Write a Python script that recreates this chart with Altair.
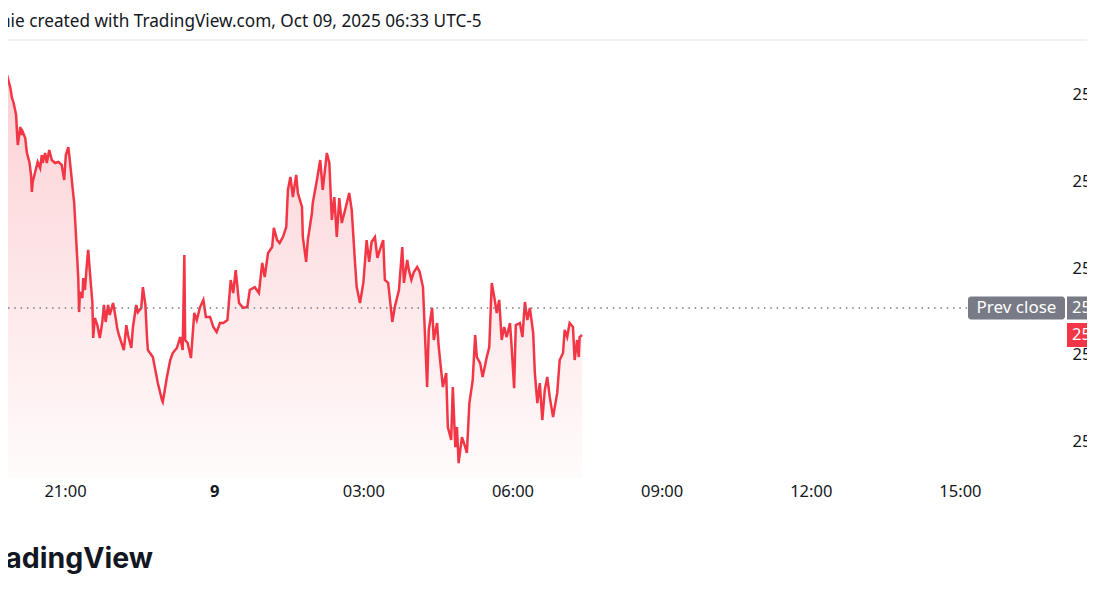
import altair as alt
import pandas as pd

# minutes after 21:00 (Oct 8, session clock) and price readings
minutes = [
    -78, -72, -70, -66, -64, -62, -59, -58, -57, -54,
    -52, -51, -48, -46, -43, -41, -40, -39, -36, -33,
    -30, -28, -27, -24, -22, -19, -16, -12, -8, -4,
    -1, 1, 4, 6, 10, 11, 13, 16, 17, 18,
    21, 22, 24, 27, 28, 30, 33, 34, 36, 39,
    42, 45, 47, 49, 52, 54, 58, 60, 63, 65,
    69, 71, 74, 76, 80, 82, 86, 88, 92, 94,
    97, 99, 100, 106, 112, 117, 118, 123, 127, 130,
    135, 139, 142, 144, 145, 148, 152, 156, 159, 163,
    167, 170, 175, 179, 183, 187, 191, 196, 200, 203,
    206, 210, 215, 220, 223, 229, 234, 238, 241, 245,
    250, 252, 256, 259, 263, 267, 269, 272, 275, 279,
    281, 286, 287, 291, 293, 298, 299, 304, 308, 311,
    316, 319, 322, 325, 328, 331, 334, 338, 343, 346,
    350, 352, 356, 360, 362, 364, 367, 370, 374, 377,
    380, 384, 386, 390, 395, 398, 403, 407, 409, 413,
    415, 418, 421, 425, 428, 432, 434, 437, 439, 443,
    445, 449, 451, 456, 460, 462, 466, 468, 471, 473,
    475, 479, 483, 485, 488, 492, 495, 497, 501, 504,
    509, 512, 515, 518, 521, 524, 527, 530, 533, 537,
    539, 542, 544, 549, 552, 555, 558, 561, 565, 567,
    570, 573, 576, 579, 582, 585, 589, 594, 597, 601,
    603, 606, 609, 613, 615, 618, 620, 621, 624,
]
prices = [
    25371.0, 25364.1, 25361.2, 25353.8, 25348.0, 25345.1, 25338.2, 25328.4, 25320.9, 25331.3,
    25326.7, 25328.4, 25324.9, 25316.3, 25311.1, 25303.6, 25293.8, 25299.6, 25305.3, 25311.1,
    25307.6, 25315.1, 25310.5, 25316.3, 25310.5, 25318.0, 25312.2, 25310.5, 25311.1, 25309.4,
    25300.7, 25315.1, 25319.7, 25311.1, 25292.1, 25288.0, 25270.7, 25244.2, 25224.6, 25236.2,
    25232.7, 25244.2, 25237.3, 25255.8, 25260.4, 25247.7, 25230.4, 25209.7, 25221.2, 25217.1,
    25209.7, 25218.9, 25228.7, 25218.9, 25228.7, 25222.9, 25229.8, 25224.6, 25215.4, 25211.4,
    25205.6, 25202.7, 25217.1, 25211.4, 25203.9, 25216.0, 25228.7, 25224.6, 25227.0, 25239.0,
    25228.7, 25209.7, 25202.7, 25198.7, 25183.7, 25173.9, 25172.8, 25187.2, 25197.0, 25201.0,
    25203.9, 25210.2, 25202.7, 25257.5, 25208.5, 25206.8, 25198.1, 25224.1, 25220.0, 25227.5,
    25231.6, 25221.8, 25221.8, 25216.0, 25213.1, 25218.3, 25218.3, 25220.0, 25243.1, 25235.6,
    25248.8, 25229.8, 25227.0, 25227.5, 25237.3, 25239.0, 25235.6, 25252.9, 25244.8, 25258.6,
    25262.1, 25273.1, 25266.1, 25264.4, 25267.9, 25273.6, 25295.0, 25302.5, 25290.9, 25303.6,
    25293.2, 25285.2, 25267.9, 25253.5, 25266.1, 25281.7, 25287.5, 25300.7, 25312.2, 25295.0,
    25316.3, 25310.5, 25277.7, 25290.9, 25267.9, 25290.3, 25275.9, 25283.4, 25293.2, 25283.4,
    25252.9, 25239.0, 25229.8, 25241.4, 25253.5, 25266.1, 25253.5, 25265.0, 25267.9, 25255.8,
    25260.4, 25266.1, 25243.1, 25241.4, 25218.9, 25227.5, 25237.3, 25262.1, 25241.4, 25254.6,
    25248.8, 25243.1, 25247.7, 25250.6, 25247.7, 25239.0, 25216.0, 25181.4, 25214.3, 25227.0,
    25208.5, 25218.3, 25204.5, 25181.4, 25189.5, 25158.4, 25150.9, 25181.4, 25146.8, 25158.4,
    25137.6, 25152.6, 25146.8, 25143.4, 25172.2, 25185.4, 25211.4, 25198.7, 25195.2, 25187.2,
    25198.7, 25204.5, 25241.4, 25233.3, 25224.1, 25231.6, 25208.5, 25216.0, 25210.2, 25218.3,
    25204.5, 25180.8, 25217.1, 25218.3, 25210.2, 25230.4, 25220.0, 25227.0, 25212.5, 25189.5,
    25172.2, 25183.7, 25162.4, 25179.7, 25187.2, 25175.6, 25164.1, 25178.0, 25197.0, 25201.0,
    25214.3, 25210.2, 25218.3, 25216.0, 25197.0, 25208.5, 25198.7, 25210.2, 25211.4,
]
prev_close = 25227.0
y_ticks = [25150, 25200, 25250, 25300, 25350]
x_tick_hours = [0, 3, 6, 9, 12, 15, 18]
header = "nie created with TradingView.com, Oct 09, 2025 06:33 UTC-5"
logo = "TradingView"

RED = "#F23645"
GRAY = "#787B86"
TXT = "#131722"
FONT = "Noto Sans"

base_ms = int(pd.Timestamp("2025-10-08T21:00:00Z").value // 10**6)
HOUR = 3600000
start_ms = base_ms - int(68.8 * 60000)
end_ms = start_ms + int(21.28 * HOUR)

df = pd.DataFrame({"t": [base_ms + m * 60000 for m in minutes], "price": prices})
pc_df = pd.DataFrame({"price": [prev_close], "label": ["Prev close"]})
last_df = pd.DataFrame({"price": [prices[-1]]})
one = pd.DataFrame({"k": [0]})

W, H = 1058, 437
LBL_X = 1064

x_enc = alt.X(
    "t:T",
    scale=alt.Scale(type="utc", domain=[start_ms, end_ms], nice=False),
    axis=alt.Axis(
        values=[base_ms + h * HOUR for h in x_tick_hours],
        labelExpr="utchours(datum.value) == 0 ? utcFormat(datum.value, '%-d') : utcFormat(datum.value, '%H:%M')",
        labelFontWeight={"condition": {"test": "utchours(datum.value) == 0", "value": "bold"}, "value": "normal"},
        ticks=False, domain=False, grid=False, labelFlush=False, labelOverlap=False,
        labelPadding=13, labelBaseline="middle", labelFontSize=16.5, labelColor=TXT,
        labelFont=FONT, title=None,
    ),
)
y_scale = alt.Scale(domain=[25129.0, 25380.8], zero=False, nice=False)
y_enc = alt.Y(
    "price:Q",
    scale=y_scale,
    axis=alt.Axis(
        orient="right", values=y_ticks, format=",.2f", ticks=False, domain=False,
        grid=False, labelPadding=LBL_X - W, labelAlign="left", labelFontSize=16.5,
        labelColor=TXT, labelFont=FONT, labelOverlap=False, title=None,
    ),
)

area = alt.Chart(df).mark_area(
    clip=True,
    color=alt.Gradient(
        gradient="linear",
        stops=[
            alt.GradientStop(color="rgba(242,54,69,0.24)", offset=0),
            alt.GradientStop(color="rgba(242,54,69,0.02)", offset=1),
        ],
        x1=1, x2=1, y1=0, y2=1,
    ),
).encode(x=x_enc, y=y_enc, y2=alt.datum(25129.0))

line = alt.Chart(df).mark_line(clip=True, color=RED, strokeWidth=2.5).encode(x=x_enc, y=y_enc)

pc_rule = alt.Chart(pc_df).mark_rule(
    color=GRAY, strokeDash=[1.5, 4.8], strokeWidth=1.5
).encode(y=alt.Y("price:Q", scale=y_scale), x=alt.value(0), x2=alt.value(960))

pc_box = alt.Chart(pc_df).mark_rect(
    color=GRAY, cornerRadius=3, yOffset=-11.5, y2Offset=11.5
).encode(y=alt.Y("price:Q", scale=y_scale), y2="price:Q", x=alt.value(960), x2=alt.value(1057))

pc_text = alt.Chart(pc_df).mark_text(
    color="white", fontSize=17, font=FONT, align="center", baseline="middle"
).encode(y=alt.Y("price:Q", scale=y_scale), x=alt.value(1008.5), text="label:N")

pc_price_box = alt.Chart(pc_df).mark_rect(
    color=GRAY, yOffset=-11.5, y2Offset=11.5
).encode(y=alt.Y("price:Q", scale=y_scale), y2="price:Q", x=alt.value(1059), x2=alt.value(1110))

pc_price_text = alt.Chart(pc_df).mark_text(
    color="white", fontSize=16.5, font=FONT, align="left", baseline="middle"
).encode(y=alt.Y("price:Q", scale=y_scale), x=alt.value(LBL_X), text=alt.Text("price:Q", format=",.2f"))

last_box = alt.Chart(last_df).mark_rect(
    color=RED, yOffset=-12, y2Offset=12
).encode(y=alt.Y("price:Q", scale=y_scale), y2="price:Q", x=alt.value(1059), x2=alt.value(1110))

last_text = alt.Chart(last_df).mark_text(
    color="white", fontSize=16.5, font=FONT, align="left", baseline="middle"
).encode(y=alt.Y("price:Q", scale=y_scale), x=alt.value(LBL_X), text=alt.Text("price:Q", format=",.2f"))

sep = alt.Chart(one).mark_rule(color="#E0E3EB", strokeWidth=1).encode(
    x=alt.value(-10), x2=alt.value(1110), y=alt.value(-1)
)

head = alt.Chart(one).mark_text(
    text=header, color=TXT, fontSize=17.2, font=FONT, align="left", baseline="middle"
).encode(x=alt.value(-8), y=alt.value(-19))

brand = alt.Chart(one).mark_text(
    text=logo, color=TXT, fontSize=28.5, font="Inter", fontWeight="bold",
    align="right", baseline="middle"
).encode(x=alt.value(145), y=alt.value(518))

chart = alt.layer(
    area, line, pc_rule, pc_box, pc_text, pc_price_box, pc_price_text,
    last_box, last_text, sep, head, brand,
).properties(
    width=W, height=H,
    autosize=alt.AutoSizeParams(type="none"),
    padding={"left": 0, "top": 33, "right": 1079 - W, "bottom": 115},
    background="white",
).configure_view(stroke=None)

chart.save("out.html", embed_options={"renderer": "svg", "actions": False})
